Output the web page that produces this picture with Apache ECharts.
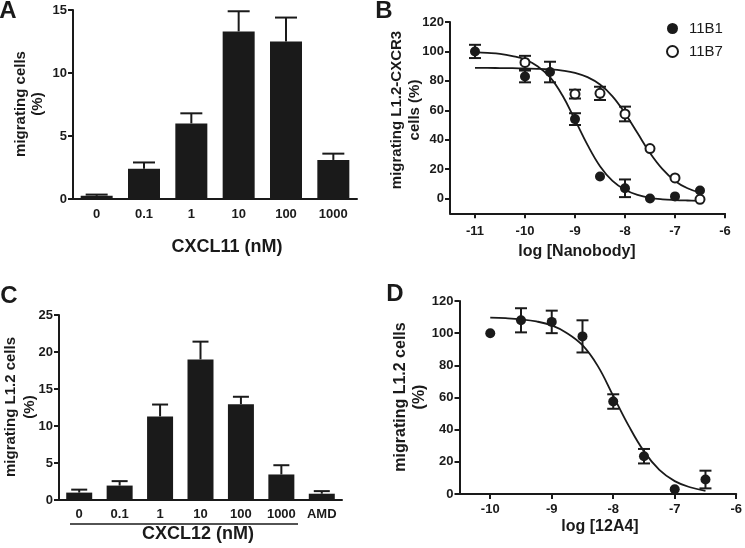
<!DOCTYPE html>
<html><head><meta charset="utf-8">
<script src="https://cdn.jsdelivr.net/npm/echarts@6/dist/echarts.min.js"></script>
<style>html,body{margin:0;padding:0;background:#fff}#c{width:745px;height:548px}</style>
</head><body><div id="c"></div>
<script>
// ---- Panel A ----
const catsA = ['0', '0.1', '1', '10', '100', '1000'];
const valsA = [0.25, 2.4, 6.0, 13.3, 12.5, 3.1];
const errA = [0.1, 0.5, 0.8, 1.6, 1.9, 0.5];
const ticksA = [0, 5, 10, 15];
// ---- Panel B ----
const xB1 = [-11, -10, -9.5, -9, -8.5, -8, -7.5, -7, -6.5];
const valsB1 = [100, 83, 86, 54, 15, 7, 0, 1.5, 5.5];
const errB1 = [4.5, 4, 7, 4, 0, 6, 0, 0, 0];
const xB7 = [-10, -9, -8.5, -8, -7.5, -7, -6.5];
const valsB7 = [92.5, 71, 71.5, 57.5, 34, 14, -0.5];
const errB7 = [4.5, 3, 4.5, 5, 0, 0, 0];
const curveXB = [-11, -10.75, -10.5, -10.25, -10, -9.75, -9.5, -9.25, -9, -8.75, -8.5, -8.25, -8, -7.75, -7.5, -7.25, -7, -6.75, -6.5];
const curveB1 = [99.5, 99, 98.3, 96.8, 94.5, 90, 82.5, 70, 53.5, 36.5, 22, 12, 6, 2.5, 0.5, -0.5, -1, -1.3, -1.5];
const curveB7 = [88.8, 88.8, 88.7, 88.6, 88.4, 88.2, 87.8, 87, 85.5, 82.5, 77.5, 69.5, 58, 44.5, 31, 20, 12, 7, 4];
const xTicksB = [-11, -10, -9, -8, -7, -6];
const yTicksB = [0, 20, 40, 60, 80, 100, 120];
// ---- Panel C ----
const catsC = ['0', '0.1', '1', '10', '100', '1000', 'AMD'];
const valsC = [1.0, 1.95, 11.3, 19.0, 12.95, 3.45, 0.85];
const errC = [0.4, 0.6, 1.6, 2.4, 1.0, 1.25, 0.35];
// ---- Panel D ----
const xD = [-10, -9.5, -9, -8.5, -8, -7.5, -7, -6.5];
const valsD = [100, 108, 107, 98, 57.5, 23.5, 3, 9];
const errD = [0, 7.5, 7, 10, 4.5, 4.5, 0, 5.5];
const curveXD = [-10, -9.75, -9.5, -9.25, -9, -8.75, -8.5, -8.25, -8, -7.75, -7.5, -7.25, -7, -6.75, -6.5];
const curveD = [109.7, 109.3, 108.6, 107.3, 104.8, 100, 92.5, 79.5, 61, 42.5, 26.5, 15, 8, 4.2, 2];
const xTicksD = [-10, -9, -8, -7, -6];

const INK = '#1a1a1a';
const FONT = 'Liberation Sans, Arial, sans-serif';
const lbl = {color: INK, fontFamily: FONT, fontWeight: 'bold', fontSize: 13};
const axLine = {show: true, onZero: false, lineStyle: {color: INK, width: 2}};
const tick = {show: true, length: 5, lineStyle: {color: INK, width: 2}};

function errRender(capW, upOnly) {
  return function (params, api) {
    const x = api.value(0), y = api.value(1), e = api.value(2);
    if (!e) return null;
    const hi = api.coord([x, y + e]);
    const lo = api.coord([x, upOnly ? y : y - e]);
    const st = {stroke: INK, lineWidth: 2};
    const ch = [
      {type: 'line', shape: {x1: hi[0], y1: hi[1], x2: lo[0], y2: lo[1]}, style: st},
      {type: 'line', shape: {x1: hi[0] - capW / 2, y1: hi[1], x2: hi[0] + capW / 2, y2: hi[1]}, style: st}
    ];
    if (!upOnly) ch.push({type: 'line', shape: {x1: lo[0] - capW / 2, y1: lo[1], x2: lo[0] + capW / 2, y2: lo[1]}, style: st});
    return {type: 'group', children: ch};
  };
}
const zip3 = (a, b, c) => a.map((v, i) => [v, b[i], c[i]]);
const zip2 = (a, b) => a.map((v, i) => [v, b[i]]);

function txt(text, x, y, size, opts) {
  return Object.assign({
    type: 'text', x: x, y: y,
    style: {text: text, fill: INK, font: 'bold ' + size + 'px ' + FONT, textAlign: 'center', textVerticalAlign: 'middle'}
  }, opts || {});
}
function vtxt(text, x, y, size, lh) {
  return {
    type: 'text', x: x, y: y, rotation: Math.PI / 2,
    style: {text: text, fill: INK, font: 'bold ' + size + 'px ' + FONT, textAlign: 'center', textVerticalAlign: 'middle', lineHeight: lh}
  };
}

const chart = echarts.init(document.getElementById('c'), null, {renderer: 'canvas'});
chart.setOption({
  animation: false,
  backgroundColor: '#fff',
  grid: [
    {left: 73, top: 10, width: 284, height: 189},
    {left: 450, top: 22, width: 275, height: 191.3},
    {left: 59, top: 315, width: 283, height: 185},
    {left: 459.5, top: 301, width: 277.5, height: 193}
  ],
  xAxis: [
    {gridIndex: 0, type: 'category', data: catsA, axisLine: axLine, axisTick: {show: false},
      axisLabel: Object.assign({margin: 9}, lbl), splitLine: {show: false}},
    {gridIndex: 1, type: 'value', min: -11.5, max: -6, axisLine: axLine,
      axisTick: Object.assign({customValues: xTicksB}, tick),
      axisLabel: Object.assign({customValues: xTicksB, margin: 12}, lbl), splitLine: {show: false}},
    {gridIndex: 2, type: 'category', data: catsC, axisLine: axLine, axisTick: {show: false},
      axisLabel: Object.assign({margin: 8, interval: 0}, lbl), splitLine: {show: false}},
    {gridIndex: 3, type: 'value', min: -10.5, max: -6, axisLine: axLine,
      axisTick: Object.assign({customValues: xTicksD}, tick),
      axisLabel: Object.assign({customValues: xTicksD, margin: 9}, lbl), splitLine: {show: false}}
  ],
  yAxis: [
    {gridIndex: 0, type: 'value', min: 0, max: 15, interval: 5, axisLine: axLine, axisTick: tick,
      axisLabel: Object.assign({margin: 6}, lbl), splitLine: {show: false}},
    {gridIndex: 1, type: 'value', min: -10, max: 120, axisLine: axLine,
      axisTick: Object.assign({customValues: yTicksB}, tick),
      axisLabel: Object.assign({customValues: yTicksB, margin: 6}, lbl), splitLine: {show: false}},
    {gridIndex: 2, type: 'value', min: 0, max: 25, interval: 5, axisLine: axLine, axisTick: tick,
      axisLabel: Object.assign({margin: 6}, lbl), splitLine: {show: false}},
    {gridIndex: 3, type: 'value', min: 0, max: 120, interval: 20, axisLine: axLine, axisTick: tick,
      axisLabel: Object.assign({margin: 6}, lbl), splitLine: {show: false}}
  ],
  legend: {
    left: 661, top: 16, orient: 'vertical', itemWidth: 11, itemHeight: 11, itemGap: 8,
    data: [{name: '11B1', icon: 'circle'}, {name: '11B7', icon: 'circle'}],
    textStyle: {color: INK, fontFamily: FONT, fontSize: 15, padding: [0, 0, 0, 6]}
  },
  series: [
    // A
    {type: 'bar', xAxisIndex: 0, yAxisIndex: 0, data: valsA, barWidth: 32, itemStyle: {color: INK}},
    {type: 'custom', xAxisIndex: 0, yAxisIndex: 0, data: valsA.map((v, i) => [i, v, errA[i]]), renderItem: errRender(22, true), z: 3},
    // B
    {type: 'line', xAxisIndex: 1, yAxisIndex: 1, data: zip2(curveXB, curveB1), smooth: 0.4, symbol: 'none', lineStyle: {color: INK, width: 1.8}, z: 1},
    {type: 'line', xAxisIndex: 1, yAxisIndex: 1, data: zip2(curveXB, curveB7), smooth: 0.4, symbol: 'none', lineStyle: {color: INK, width: 1.8}, z: 1},
    {type: 'custom', xAxisIndex: 1, yAxisIndex: 1, data: zip3(xB1, valsB1, errB1), renderItem: errRender(12, false), z: 2},
    {type: 'custom', xAxisIndex: 1, yAxisIndex: 1, data: zip3(xB7, valsB7, errB7), renderItem: errRender(12, false), z: 2},
    {name: '11B1', type: 'scatter', xAxisIndex: 1, yAxisIndex: 1, data: zip2(xB1, valsB1), symbol: 'circle', symbolSize: 10, itemStyle: {color: INK, opacity: 1}, z: 4},
    {name: '11B7', type: 'scatter', xAxisIndex: 1, yAxisIndex: 1, data: zip2(xB7, valsB7), symbol: 'circle', symbolSize: 9, itemStyle: {color: '#fff', borderColor: INK, borderWidth: 2, opacity: 1}, z: 4},
    // C
    {type: 'bar', xAxisIndex: 2, yAxisIndex: 2, data: valsC, barWidth: 26, itemStyle: {color: INK}},
    {type: 'custom', xAxisIndex: 2, yAxisIndex: 2, data: valsC.map((v, i) => [i, v, errC[i]]), renderItem: errRender(16, true), z: 3},
    // D
    {type: 'line', xAxisIndex: 3, yAxisIndex: 3, data: zip2(curveXD, curveD), smooth: 0.4, symbol: 'none', lineStyle: {color: INK, width: 1.8}, z: 1},
    {type: 'custom', xAxisIndex: 3, yAxisIndex: 3, data: zip3(xD, valsD, errD), renderItem: errRender(12, false), z: 2},
    {type: 'scatter', xAxisIndex: 3, yAxisIndex: 3, data: zip2(xD, valsD), symbol: 'circle', symbolSize: 10, itemStyle: {color: INK, opacity: 1}, z: 4}
  ],
  graphic: [
    txt('A', 8, 11, 24),
    txt('B', 384, 11, 24),
    txt('C', 9, 296, 24),
    txt('D', 395, 294, 24),
    vtxt('migrating cells\n(%)', 29, 104, 15, 17),
    vtxt('migrating L1.2-CXCR3\ncells (%)', 406, 110, 15, 18),
    vtxt('migrating L1.2 cells\n(%)', 20, 407, 15, 19),
    vtxt('migrating L1.2 cells\n(%)', 410, 397, 16, 19),
    txt('CXCL11 (nM)', 227, 247, 18),
    txt('log [Nanobody]', 577, 252, 16),
    txt('CXCL12 (nM)', 198, 534, 18),
    txt('log [12A4]', 600, 527, 16),
    {type: 'line', shape: {x1: 70, y1: 524, x2: 298, y2: 524}, style: {stroke: INK, lineWidth: 1.5}}
  ]
});
</script></body></html>
